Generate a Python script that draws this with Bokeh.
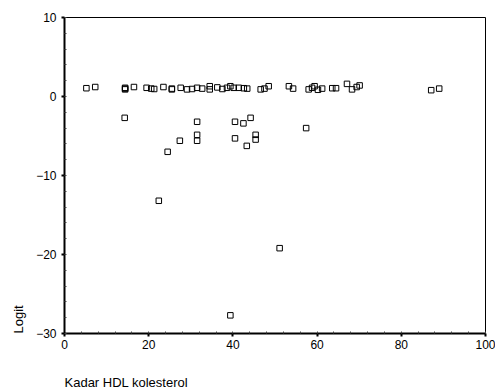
import numpy as np
from bokeh.plotting import figure
from bokeh.models import Range1d, FixedTicker, ColumnDataSource, Title
from bokeh.embed import file_html
from bokeh.resources import INLINE

# Kadar HDL kolesterol (x) and Logit (y)
hdl = [5.2, 7.3, 14.4, 14.4, 14.4, 16.5, 19.5, 20.6, 21.3, 23.5, 25.5, 25.5, 27.6, 29.1,
       30.3, 31.5, 32.7, 34.5, 34.5, 36.3, 37.5, 38.6, 39.4, 40.2, 41.4, 42.6, 43.4,
       46.6, 47.5, 48.5, 53.3, 54.3, 58.0, 58.8, 59.4, 60.2, 61.2, 63.6, 64.5, 67.1,
       68.3, 69.4, 70.1, 87.1, 89.0,
       14.3, 31.5, 31.5, 31.5, 27.4, 24.5, 40.5, 42.5, 44.2, 40.5, 45.4, 45.4, 43.3,
       57.4, 22.4, 51.1, 39.4]
logit = [1.05, 1.2, 1.1, 0.9, 1.0, 1.2, 1.1, 1.0, 0.95, 1.2, 1.0, 0.9, 1.1, 0.9,
         0.95, 1.1, 1.0, 1.3, 0.9, 1.15, 0.95, 1.1, 1.3, 1.1, 1.1, 1.05, 1.0,
         0.9, 1.0, 1.3, 1.3, 1.0, 0.9, 1.1, 1.3, 0.85, 1.0, 1.05, 1.05, 1.6,
         0.9, 1.2, 1.4, 0.8, 1.0,
         -2.7, -3.2, -4.85, -5.6, -5.6, -7.0, -3.2, -3.4, -2.7, -5.3, -4.85, -5.45, -6.25,
         -4.0, -13.2, -19.2, -27.7]

x_ticks = [0, 20, 40, 60, 80, 100]
y_ticks = [-30, -20, -10, 0, 10]
x_title = "Kadar HDL kolesterol"
y_title = "Logit"

p = figure(width=495, height=392, output_backend="svg", toolbar_location=None,
           x_range=Range1d(0, 100), y_range=Range1d(-30, 10),
           min_border_left=64, min_border_right=10, min_border_top=17, min_border_bottom=59)
p.background_fill_color = "white"
p.border_fill_color = "white"
p.outline_line_color = "black"
p.outline_line_width = 1
p.xgrid.visible = False
p.ygrid.visible = False

for ax in (p.xaxis[0], p.yaxis[0]):
    ax.axis_line_color = "black"
    ax.axis_line_width = 2
    ax.major_tick_line_color = "black"
    ax.major_tick_line_width = 2
    ax.major_tick_out = 3
    ax.major_tick_in = 0
    ax.minor_tick_line_color = "#444444"
    ax.minor_tick_in = 2
    ax.minor_tick_out = 0
    ax.major_label_text_font = "Liberation Sans"
    ax.major_label_text_font_size = "12px"
    ax.major_label_text_color = "black"
p.xaxis.ticker = FixedTicker(ticks=x_ticks, minor_ticks=list(range(0, 101, 4)))
p.yaxis.ticker = FixedTicker(ticks=y_ticks, minor_ticks=list(range(-30, 11, 2)))
p.xaxis.major_label_standoff = 3
p.yaxis.major_label_standoff = 5

# blank spacer label to push the x title down without growing the panel
p.xaxis.axis_label = " "
p.xaxis.axis_label_text_font_size = "13px"
p.xaxis.axis_label_standoff = 0

p.add_layout(Title(text=x_title, align="left", text_font="Liberation Sans",
                   text_font_size="13px", text_font_style="normal", text_color="black",
                   standoff=6), "below")
p.add_layout(Title(text=y_title, align="left", text_font="Liberation Sans",
                   text_font_size="13px", text_font_style="normal", text_color="black",
                   standoff=16), "left")

src = ColumnDataSource(dict(x=hdl, y=logit))
p.scatter("x", "y", source=src, marker="square", size=5.5, fill_color="white",
          fill_alpha=0.0, line_color="black", line_width=1)

open("out.html", "w").write(file_html(p, INLINE))
